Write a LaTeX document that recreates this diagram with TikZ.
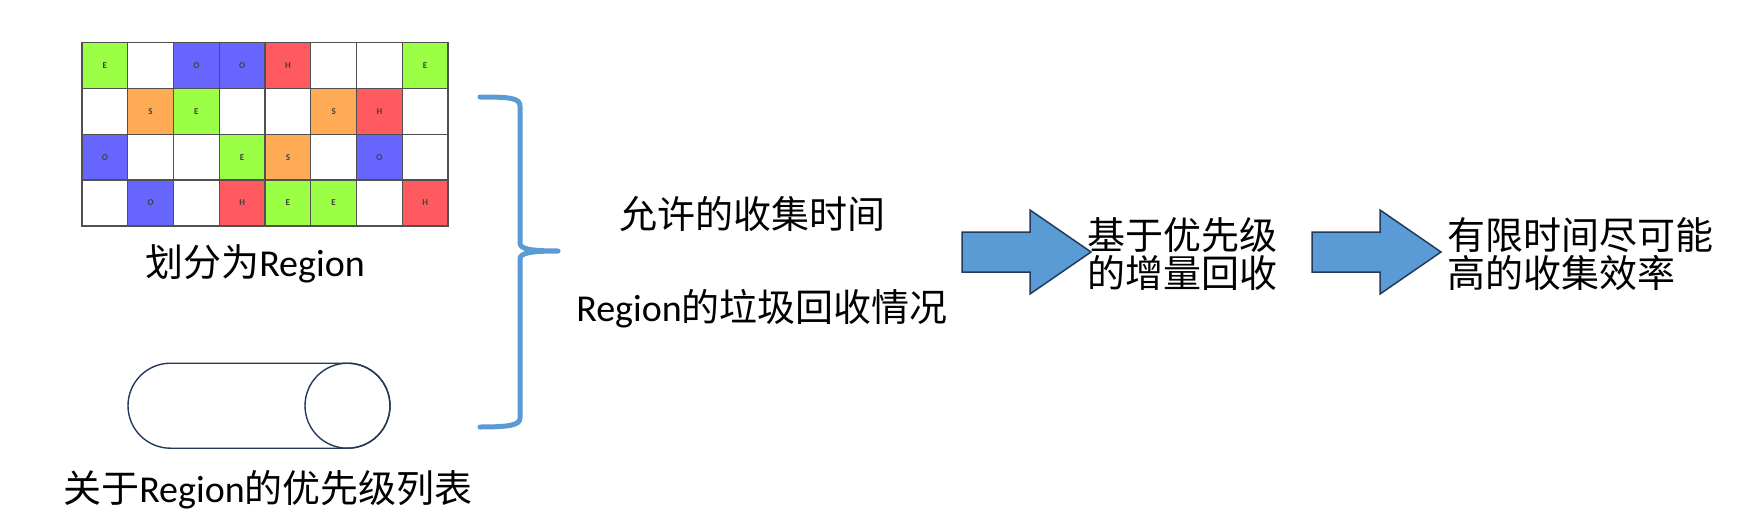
\documentclass[tikz,border=0pt]{standalone}
\usepackage{fontspec}
\setmainfont{Carlito}
\newfontfamily\cjk{Noto Sans CJK SC}
\usetikzlibrary{shapes.misc}
\definecolor{cg}{RGB}{155,255,70}
\definecolor{cb}{RGB}{102,102,255}
\definecolor{cr}{RGB}{255,90,95}
\definecolor{co}{RGB}{255,170,85}
\definecolor{braceblue}{RGB}{91,155,213}
\definecolor{navy}{RGB}{36,58,90}
\definecolor{gridline}{RGB}{80,80,80}
\begin{document}
\begin{tikzpicture}[x=1pt,y=-1pt,
  cell/.style={draw=gridline,line width=1.3pt,minimum size=45.8pt,inner sep=0pt,
    font=\fontsize{9}{9}\selectfont\bfseries,text=black!75},
  lbl/.style={inner sep=0pt,font=\fontsize{38}{38}\selectfont},
  cjklbl/.style={inner sep=0pt,font=\fontsize{38}{37.5}\selectfont\cjk},
  bracestyle/.style={draw=braceblue,line width=5pt,line cap=round,line join=round},
  outline/.style={draw=navy,line width=1.4pt,inner sep=0pt},
  blockarrow/.pic={\filldraw[fill=braceblue,draw=navy,line width=1.5pt,line join=miter]
     (0,-20) -- (68,-20) -- (68,-42) -- (129,0) -- (68,42) -- (68,20) -- (0,20) -- cycle;}]
\path[use as bounding box,fill=white] (0,0) rectangle (1754,522);
% grid of regions
\foreach \c/\r/\f/\t in {
  1/1/cg/E,2/1/white/{},3/1/cb/O,4/1/cb/O,5/1/cr/H,6/1/white/{},7/1/white/{},8/1/cg/E,
  1/2/white/{},2/2/co/S,3/2/cg/E,4/2/white/{},5/2/white/{},6/2/co/S,7/2/cr/H,8/2/white/{},
  1/3/cb/O,2/3/white/{},3/3/white/{},4/3/cg/E,5/3/co/S,6/3/white/{},7/3/cb/O,8/3/white/{},
  1/4/white/{},2/4/cb/O,3/4/white/{},4/4/cr/H,5/4/cg/E,6/4/cg/E,7/4/white/{},8/4/cr/H}
  \node[cell,fill=\f] (cell-\c-\r) at ({82+45.75*(\c-0.5)},{42.7+45.8*(\r-0.5)}) {\t};
\node[lbl,anchor=base] (gridlabel) at (255,276) {{\cjk 划分为}Region};
% priority list
\node[outline,rounded rectangle,minimum width=262pt,minimum height=85pt] (list) at (259,405.7) {};
\node[outline,circle,minimum size=85pt] (listhead) at (347.5,405.7) {};
\node[lbl,anchor=base] (listlabel) at (268,502) {{\cjk 关于}Region{\cjk 的优先级列表}};
% brace
\draw[bracestyle] (480,97) .. controls (510,97) and (520,98) .. (520,106)
  -- (520,243) .. controls (520,249) and (530,251) .. (558,251)
  .. controls (530,251) and (520,253) .. (520,259)
  -- (520,418) .. controls (520,425) and (510,427) .. (480,427);
% middle texts
\node[cjklbl,anchor=base] (time) at (752,228) {允许的收集时间};
\node[lbl,anchor=base] (state) at (762,321) {Region{\cjk 的垃圾回收情况}};
% arrows
\pic at (962,252) {blockarrow};
\node[cjklbl,anchor=west,align=left] (incr) at (1087,254) {基于优先级\\的增量回收};
\pic at (1312,252) {blockarrow};
\node[cjklbl,anchor=west,align=left] (eff) at (1447,254) {有限时间尽可能\\高的收集效率};
\end{tikzpicture}
\end{document}
